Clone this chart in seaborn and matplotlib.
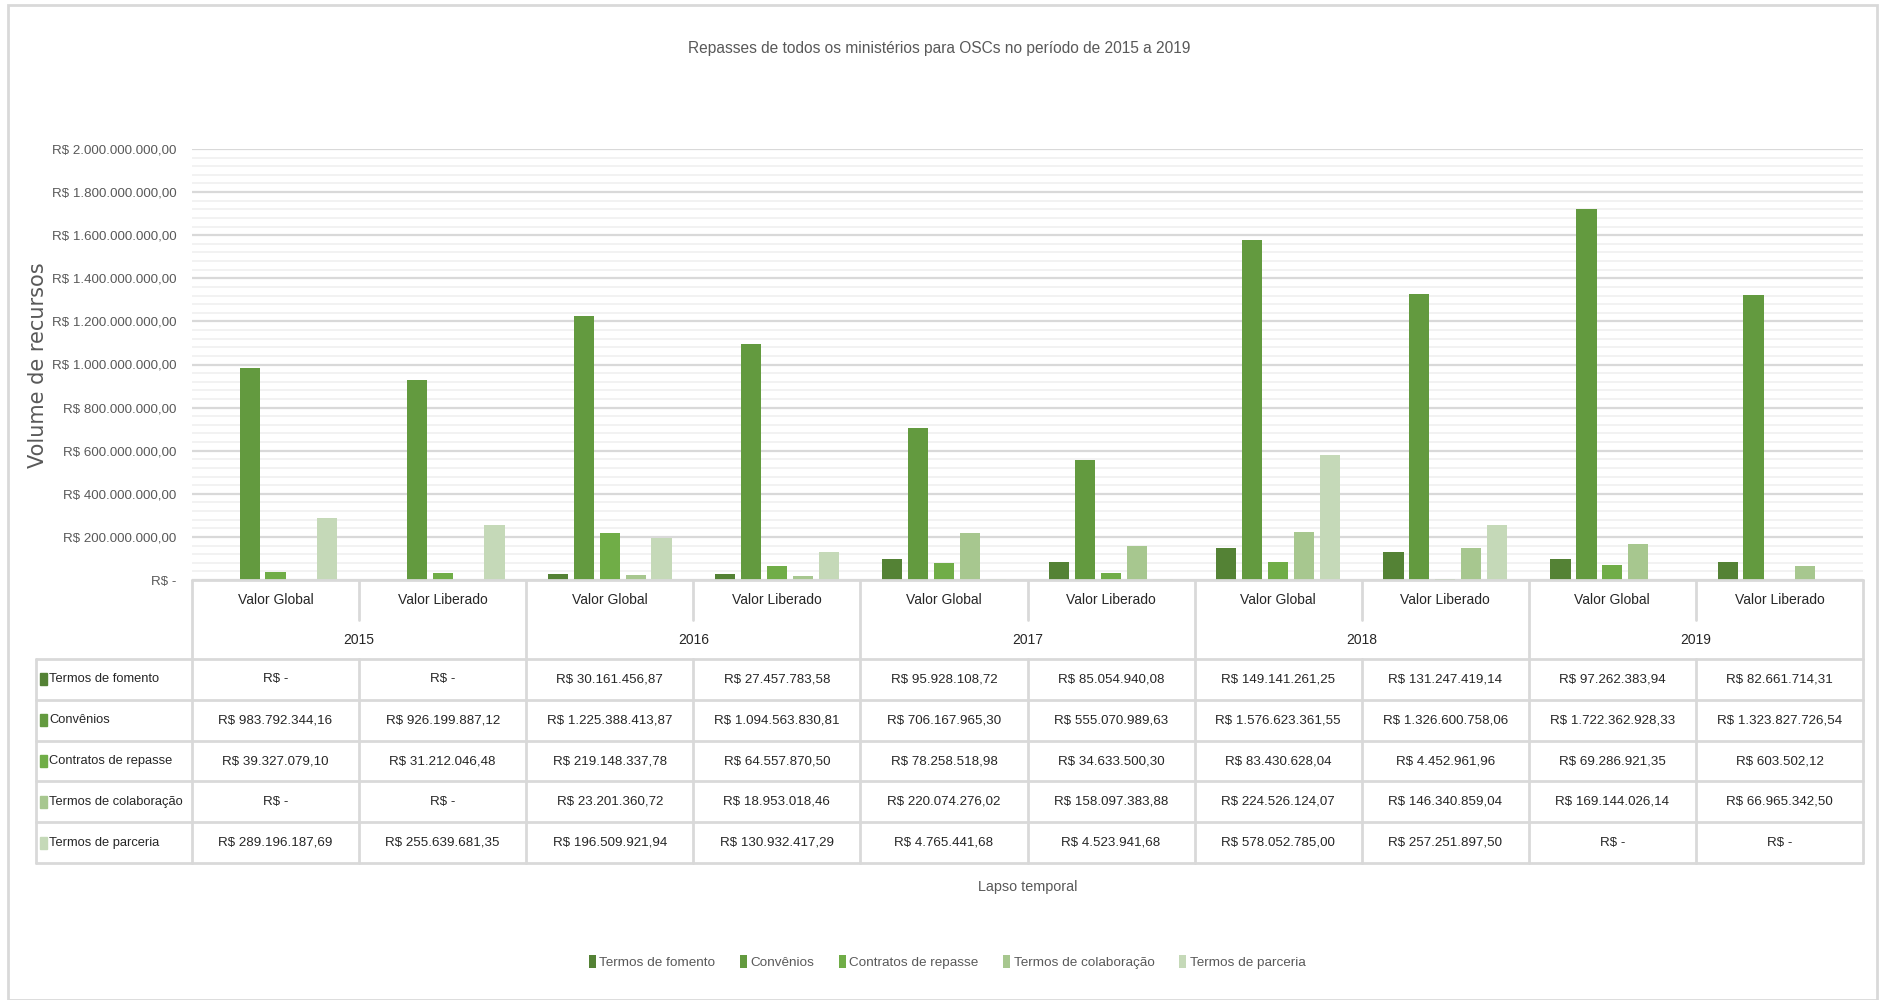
import pandas as pd
import numpy as np
import seaborn as sns
import matplotlib.pyplot as plt
from matplotlib.transforms import blended_transform_factory
from matplotlib.patches import Patch, Rectangle
from matplotlib.ticker import MultipleLocator, FuncFormatter

anos = ['2015', '2016', '2017', '2018', '2019']
tipos = ['Valor Global', 'Valor Liberado']
series = ['Termos de fomento', 'Convênios', 'Contratos de repasse',
          'Termos de colaboração', 'Termos de parceria']

termos_fomento = [0, 0, 30161456.87, 27457783.58, 95928108.72, 85054940.08,
                  149141261.25, 131247419.14, 97262383.94, 82661714.31]
convenios = [983792344.16, 926199887.12, 1225388413.87, 1094563830.81, 706167965.30,
             555070989.63, 1576623361.55, 1326600758.06, 1722362928.33, 1323827726.54]
contratos_repasse = [39327079.10, 31212046.48, 219148337.78, 64557870.50, 78258518.98,
                     34633500.30, 83430628.04, 4452961.96, 69286921.35, 603502.12]
termos_colaboracao = [0, 0, 23201360.72, 18953018.46, 220074276.02, 158097383.88,
                      224526124.07, 146340859.04, 169144026.14, 66965342.50]
termos_parceria = [289196187.69, 255639681.35, 196509921.94, 130932417.29, 4765441.68,
                   4523941.68, 578052785.00, 257251897.50, 0, 0]

valores = [termos_fomento, convenios, contratos_repasse, termos_colaboracao, termos_parceria]
cores = ['#548235', '#639A3F', '#70AD47', '#A7C78F', '#C5D9B8']

colunas = [f'{a} {t}' for a in anos for t in tipos]
rows = []
for s, vals in zip(series, valores):
    for c, v in zip(colunas, vals):
        rows.append({'coluna': c, 'serie': s, 'valor': v})
df = pd.DataFrame(rows)


def brl(v, pos=None):
    if v == 0:
        return 'R$ -'
    s = f'{v:,.2f}'.replace(',', 'X').replace('.', ',').replace('X', '.')
    return 'R$ ' + s


sns.set_style('white')
plt.rcParams['font.family'] = ['Liberation Sans', 'DejaVu Sans']

W, H = 1879, 1000
fig = plt.figure(figsize=(W / 100, H / 100), dpi=100)


def fx(px):
    return px / W


def fy(py):
    return 1 - py / H


fs = 9.6          # texto da tabela / eixos
txt_c = '#262626'
gray = '#595959'
line_c = '#D9D9D9'

# area do grafico
left, right, top, zero = 192, 1863, 149, 580
ax = fig.add_axes([fx(left), fy(zero), fx(right - left), (zero - top) / H])

sns.barplot(data=df, x='coluna', y='valor', hue='serie', order=colunas, hue_order=series,
            palette=cores, saturation=1, width=0.775, gap=0.22, errorbar=None,
            linewidth=0, legend=False, ax=ax)

ax.set_xlim(-0.5, len(colunas) - 0.5)
ax.set_ylim(0, 2e9)
ax.yaxis.set_major_locator(MultipleLocator(2e8))
ax.yaxis.set_minor_locator(MultipleLocator(4e7))
ax.yaxis.set_major_formatter(FuncFormatter(brl))
ax.grid(axis='y', which='major', color=line_c, lw=1.6, zorder=0)
ax.grid(axis='y', which='minor', color='#F2F2F2', lw=1.4, zorder=0)
ax.set_axisbelow(True)
for sp in ax.spines.values():
    sp.set_visible(False)
ax.set_xticks([])
ax.set_xlabel('')
ax.set_ylabel('')
ax.tick_params(axis='y', which='both', length=0, labelsize=fs, labelcolor=gray, pad=11)

# tabela de dados
tr = blended_transform_factory(ax.transData, fig.transFigure)
tf = fig.transFigure

hdr_top, hdr_mid, year_bot = 580, 620, 659
row_h = 40.8
tab_left = 36
tab_bot = year_bot + row_h * len(series)

# linhas horizontais
fig.add_artist(plt.Line2D([fx(left), fx(right)], [fy(hdr_top)] * 2, color=line_c, lw=2, transform=tf))
for k in range(len(series) + 1):
    yy = year_bot + k * row_h
    fig.add_artist(plt.Line2D([fx(tab_left), fx(right)], [fy(yy)] * 2, color=line_c, lw=2, transform=tf))
# linhas verticais
fig.add_artist(plt.Line2D([fx(tab_left)] * 2, [fy(year_bot), fy(tab_bot)], color=line_c, lw=2, transform=tf))
for xx in np.arange(-0.5, len(colunas), 2):
    ax.plot([xx, xx], [fy(hdr_top), fy(tab_bot)], color=line_c, lw=2, transform=tr, clip_on=False)
for xx in np.arange(0.5, len(colunas), 2):
    ax.plot([xx, xx], [fy(hdr_top), fy(hdr_mid)], color=line_c, lw=2, transform=tr, clip_on=False)
    ax.plot([xx, xx], [fy(year_bot), fy(tab_bot)], color=line_c, lw=2, transform=tr, clip_on=False)

for i, c in enumerate(colunas):
    ax.text(i, fy(600), tipos[i % 2], transform=tr, ha='center', va='center', fontsize=fs + 0.4, color=txt_c)
for j, a in enumerate(anos):
    ax.text(2 * j + 0.5, fy(640), a, transform=tr, ha='center', va='center', fontsize=fs + 0.4, color=txt_c)

for r, (s, vals, cor) in enumerate(zip(series, valores, cores)):
    yc = year_bot + (r + 0.5) * row_h
    fig.add_artist(Rectangle((fx(40), fy(yc + 6)), fx(7), 12 / H, color=cor, transform=tf))
    fig.text(fx(49), fy(yc), s, ha='left', va='center', fontsize=fs - 0.3, color=txt_c)
    for i, v in enumerate(vals):
        ax.text(i, fy(yc), brl(v), transform=tr, ha='center', va='center', fontsize=fs, color=txt_c)

# titulos
fig.text(0.5, fy(48), 'Repasses de todos os ministérios para OSCs no período de 2015 a 2019',
         ha='center', va='center', fontsize=11.2, color=gray)
fig.text(0.5 * (fx(left) + fx(right)), fy(887), 'Lapso temporal', ha='center', va='center',
         fontsize=10.4, color=gray)
fig.text(fx(38), fy(365), 'Volume de recursos', rotation=90, ha='center', va='center',
         fontsize=15, color=gray, family='DejaVu Sans')

handles = [Patch(facecolor=c, edgecolor='none', label=s) for s, c in zip(series, cores)]
fig.legend(handles=handles, loc='center', bbox_to_anchor=(fx(947), fy(962)), ncol=5, frameon=False,
           fontsize=9.7, labelcolor=gray, handlelength=0.55, handleheight=1.1,
           handletextpad=0.25, columnspacing=1.8)

# borda
fig.add_artist(Rectangle((fx(8), 0), fx(1869), fy(5), fill=False, edgecolor=line_c, lw=2, transform=tf))

fig.savefig('out.png', dpi=100, facecolor='white')
